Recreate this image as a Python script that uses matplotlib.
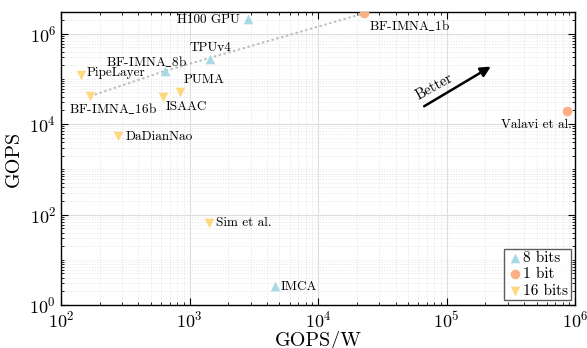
import matplotlib
matplotlib.use("Agg")
import matplotlib.pyplot as plt
import matplotlib.ticker as mticker

plt.rcParams['font.family'] = ['cmr10', 'DejaVu Serif']
plt.rcParams['mathtext.fontset'] = 'cm'
plt.rcParams['axes.formatter.use_mathtext'] = True

# data: (name, GOPS/W, GOPS)
names_8 = ["H100 GPU", "TPUv4", "BF-IMNA_8b", "IMCA"]
eff_8 = [2850, 1450, 645, 4630]
gops_8 = [2.1e6, 2.8e5, 1.5e5, 2.6]

names_1 = ["BF-IMNA_1b", "Valavi et al."]
eff_1 = [22800, 8.7e5]
gops_1 = [2.8e6, 1.9e4]

names_16 = ["PipeLayer", "BF-IMNA_16b", "ISAAC", "PUMA", "DaDianNao", "Sim et al."]
eff_16 = [143, 168, 622, 844, 278, 1419]
gops_16 = [1.2e5, 4.1e4, 4.0e4, 5.0e4, 5.4e3, 65]

bf_eff = [168, 645, 22800]
bf_gops = [4.1e4, 1.5e5, 2.8e6]

c8 = "#a8d8e4"
c1 = "#fbb083"
c16 = "#fdd87e"

fig = plt.figure(figsize=(5.87, 3.48), dpi=100)
ax = fig.add_axes([0.104, 0.1236, 0.876, 0.842])
ax.set_xscale('log')
ax.set_yscale('log')
ax.set_xlim(1e2, 1e6)
ax.set_ylim(1, 3e6)

ax.plot(bf_eff, bf_gops, linestyle=(0, (1.2, 1.2)), color="#c0c0c0", lw=1.5, zorder=2)

ms = 48
ax.scatter(eff_8, gops_8, marker='^', s=ms, color=c8, label="8 bits", zorder=3, linewidths=0)
ax.scatter(eff_1, gops_1, marker='o', s=ms, color=c1, label="1 bit", zorder=3, linewidths=0)
ax.scatter(eff_16, gops_16, marker='v', s=ms, color=c16, label="16 bits", zorder=3, linewidths=0)

# label offsets in pixels (dx, dy, ha)
offs = {
    "H100 GPU": (-8, -1, 'right'),
    "TPUv4": (0, 11, 'center'),
    "BF-IMNA_8b": (-18, 9, 'center'),
    "IMCA": (6, -1, 'left'),
    "BF-IMNA_1b": (5, -12, 'left'),
    "Valavi et al.": (4, -14, 'right'),
    "PipeLayer": (6, 2, 'left'),
    "BF-IMNA_16b": (23, -12, 'center'),
    "ISAAC": (3, -10, 'left'),
    "PUMA": (3, 12, 'left'),
    "DaDianNao": (7, -1, 'left'),
    "Sim et al.": (7, 0, 'left'),
}
for nm, x, y in zip(names_8 + names_1 + names_16, eff_8 + eff_1 + eff_16, gops_8 + gops_1 + gops_16):
    dx, dy, ha = offs[nm]
    ax.annotate(nm.replace("_", r"$\_$"), (x, y), xytext=(dx, dy), textcoords='offset pixels',
                ha=ha, va='center', fontsize=9.5, zorder=4)

ax.annotate("", xy=(2.3e5, 2.0e5), xytext=(6.4e4, 2.3e4),
            arrowprops=dict(arrowstyle='-|>', color='black', lw=1.8, mutation_scale=15))
ax.text(8.0e4, 6.5e4, "Better", rotation=29, ha='center', va='center', fontsize=10.5)

ax.yaxis.set_major_locator(mticker.LogLocator(base=100, numticks=10))
ax.yaxis.set_minor_locator(mticker.LogLocator(base=10, subs=[1, 2, 3, 4, 5, 6, 7, 8, 9], numticks=20))
ax.yaxis.set_minor_formatter(mticker.NullFormatter())
ax.xaxis.set_major_locator(mticker.LogLocator(base=10, numticks=10))
ax.xaxis.set_minor_locator(mticker.LogLocator(base=10, subs=[2, 3, 4, 5, 6, 7, 8, 9], numticks=20))

ax.tick_params(which='both', direction='in', top=True, right=True)
ax.tick_params(which='major', length=5, labelsize=13)
ax.tick_params(which='minor', length=2.5)
ax.grid(which='major', color='#dddddd', lw=0.8)
ax.grid(which='minor', color='#e4e4e4', lw=0.5, linestyle=(0, (2, 2)))
ax.set_axisbelow(True)
for s in ax.spines.values():
    s.set_linewidth(1.0)

ax.set_xlabel("GOPS/W", fontsize=14.5, labelpad=0)
ax.set_ylabel("GOPS", fontsize=14.5, labelpad=5)

leg = ax.legend(loc='lower right', fontsize=11, frameon=True, fancybox=False, borderpad=0.15,
                handletextpad=0.0, handlelength=1.1, labelspacing=0.2, borderaxespad=0.3)
leg.get_frame().set_edgecolor('#333333')
leg.get_frame().set_linewidth(1.0)

fig.savefig("out.png", dpi=100)
